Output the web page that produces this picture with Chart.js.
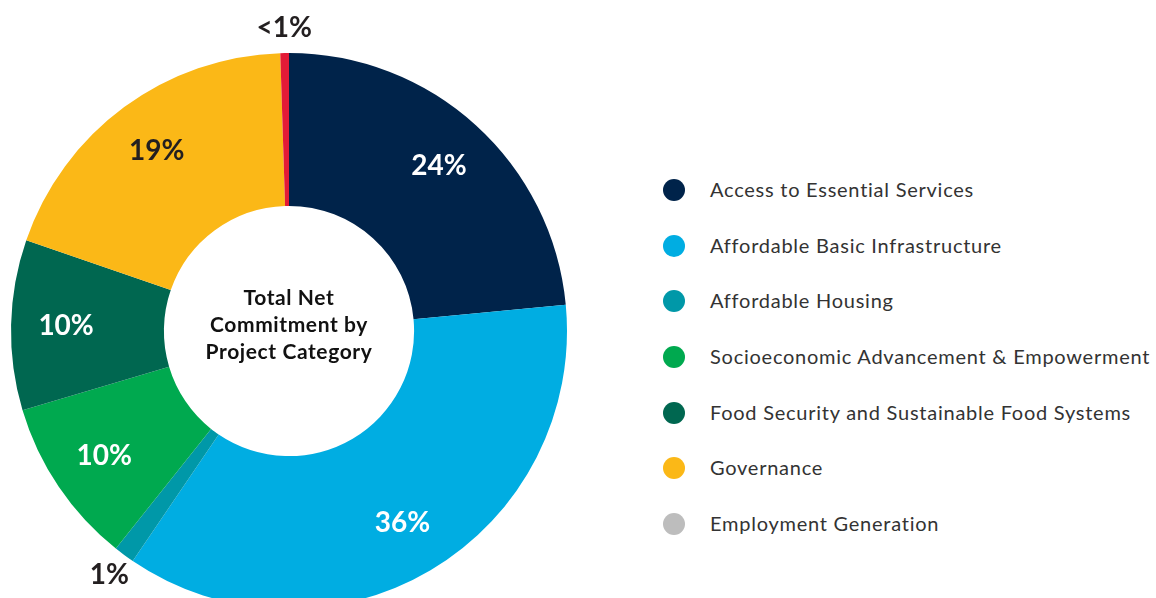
<!DOCTYPE html>
<html>
<head>
<meta charset="utf-8">
<script src="https://cdn.jsdelivr.net/npm/chart.js@4"></script>
<style>
  html, body { margin: 0; padding: 0; background: #fff; overflow: hidden; }
  body { width: 1156px; height: 598px; position: relative; font-family: Lato, sans-serif; }
  #chartBox { position: absolute; left: 0; top: 0; width: 578px; height: 662px; }
  #legend { position: absolute; left: 663px; top: 177px; margin: 0; padding: 0; list-style: none; }
  #legend li { height: 55.7px; display: flex; align-items: flex-start; font-size: 20px; color: #333; letter-spacing: 0.75px; white-space: nowrap; }
  #legend .dot { width: 22px; height: 22px; border-radius: 50%; margin-right: 25px; margin-top: 2px; flex: none; }
</style>
</head>
<body>
<div id="chartBox"><canvas id="donut"></canvas></div>
<ul id="legend"></ul>
<script>
// Categories, clockwise from the top
const categories = [
    'Access to Essential Services',
    'Affordable Basic Infrastructure',
    'Affordable Housing',
    'Socioeconomic Advancement & Empowerment',
    'Food Security and Sustainable Food Systems',
    'Governance',
    'Employment Generation',
];
// Share of total net commitment (%)
const shares = [23.5, 36, 1.2, 9.7, 9.9, 19.2, 0.5];
const shareLabels = ['24%', '36%', '1%', '10%', '10%', '19%', '<1%'];
const sliceColors = ['#00234a', '#00ade2', '#0098a8', '#00a94f', '#006750', '#fbb817', '#e31b37'];
const legendColors = ['#00234a', '#00ade2', '#0098a8', '#00a94f', '#006750', '#fbb817', '#bdbdbd'];
const labelColors = ['#fff', '#fff', '#231f20', '#fff', '#fff', '#231f20', '#231f20'];
const centerLines = ['Total Net', 'Commitment by', 'Project Category'];

// Build the legend
const legend = document.getElementById('legend');
categories.forEach((name, i) => {
    const li = document.createElement('li');
    const dot = document.createElement('span');
    dot.className = 'dot';
    dot.style.background = legendColors[i];
    li.appendChild(dot);
    li.appendChild(document.createTextNode(name));
    legend.appendChild(li);
});

// Percent labels, inside the ring or just outside for the thin slices
const sliceLabels = {
    id: 'sliceLabels',
    afterDatasetsDraw(chart) {
        const ctx = chart.ctx;
        const arcs = chart.getDatasetMeta(0).data;
        ctx.save();
        ctx.font = 'bold 28px Lato, sans-serif';
        ctx.textAlign = 'center';
        ctx.textBaseline = 'middle';
        arcs.forEach((arc, i) => {
            const p = arc.getProps(['x', 'y', 'startAngle', 'endAngle', 'innerRadius', 'outerRadius'], true);
            const mid = (p.startAngle + p.endAngle) / 2;
            const r = shares[i] < 2
                ? p.outerRadius + 25
                : p.innerRadius + 0.64 * (p.outerRadius - p.innerRadius);
            ctx.fillStyle = labelColors[i];
            ctx.fillText(shareLabels[i], p.x + Math.cos(mid) * r, p.y + Math.sin(mid) * r);
        });
        ctx.restore();
    }
};

// Title in the hole
const centerText = {
    id: 'centerText',
    afterDraw(chart) {
        const ctx = chart.ctx;
        const arc = chart.getDatasetMeta(0).data[0];
        ctx.save();
        ctx.font = 'bold 21px Lato, sans-serif';
        ctx.letterSpacing = '0.6px';
        ctx.fillStyle = '#111';
        ctx.textAlign = 'center';
        ctx.textBaseline = 'middle';
        centerLines.forEach((line, i) => {
            ctx.fillText(line, arc.x, arc.y - 33 + i * 27);
        });
        ctx.restore();
    }
};

new Chart(document.getElementById('donut'), {
    type: 'doughnut',
    data: {
        labels: categories,
        datasets: [{
            data: shares,
            backgroundColor: sliceColors,
            borderWidth: 0,
        }],
    },
    options: {
        responsive: true,
        maintainAspectRatio: false,
        animation: false,
        cutout: '45%',
        layout: { padding: 11 },
        plugins: {
            legend: { display: false },
            tooltip: { enabled: false },
        },
    },
    plugins: [sliceLabels, centerText],
});
</script>
</body>
</html>
